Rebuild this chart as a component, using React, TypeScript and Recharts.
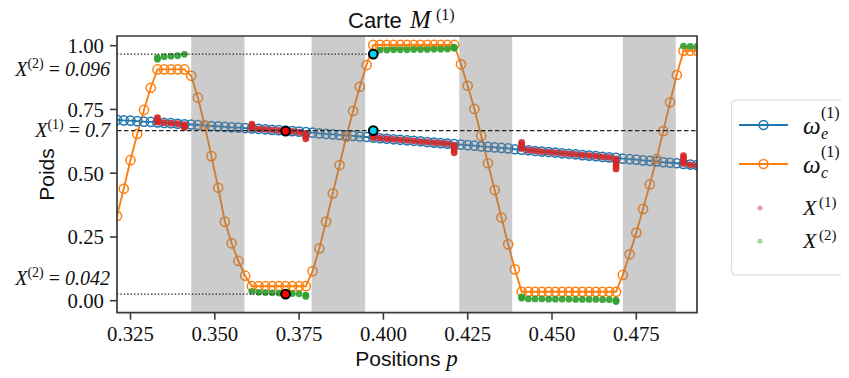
import React from "react";
import {
  ComposedChart,
  Line,
  Scatter,
  XAxis,
  YAxis,
  ReferenceArea,
  ReferenceLine,
} from "recharts";

// ---------- data ----------
const positions = [
  0.321, 0.323, 0.325, 0.327, 0.329, 0.331, 0.333, 0.335, 0.337, 0.339,
  0.341, 0.343, 0.345, 0.347, 0.349, 0.351, 0.353, 0.355, 0.357, 0.359,
  0.361, 0.363, 0.365, 0.367, 0.369, 0.371, 0.373, 0.375, 0.377, 0.379,
  0.381, 0.383, 0.385, 0.387, 0.389, 0.391, 0.393, 0.395, 0.397, 0.399,
  0.401, 0.403, 0.405, 0.407, 0.409, 0.411, 0.413, 0.415, 0.417, 0.419,
  0.421, 0.423, 0.425, 0.427, 0.429, 0.431, 0.433, 0.435, 0.437, 0.439,
  0.441, 0.443, 0.445, 0.447, 0.449, 0.451, 0.453, 0.455, 0.457, 0.459,
  0.461, 0.463, 0.465, 0.467, 0.469, 0.471, 0.473, 0.475, 0.477, 0.479,
  0.481, 0.483, 0.485, 0.487, 0.489, 0.491, 0.493,
];

const omegaE = [
  0.709, 0.707, 0.706, 0.704, 0.702, 0.701, 0.699, 0.697, 0.696, 0.694,
  0.692, 0.691, 0.689, 0.687, 0.685, 0.684, 0.682, 0.68, 0.679, 0.677,
  0.675, 0.674, 0.672, 0.67, 0.669, 0.667, 0.665, 0.663, 0.661, 0.659,
  0.656, 0.654, 0.652, 0.65, 0.648, 0.646, 0.644, 0.642, 0.639, 0.637,
  0.635, 0.633, 0.631, 0.629, 0.627, 0.625, 0.622, 0.62, 0.618, 0.616,
  0.614, 0.612, 0.61, 0.608, 0.605, 0.603, 0.601, 0.599, 0.597, 0.594,
  0.592, 0.59, 0.587, 0.585, 0.583, 0.581, 0.578, 0.576, 0.574, 0.571,
  0.569, 0.567, 0.564, 0.562, 0.56, 0.557, 0.555, 0.553, 0.55, 0.548,
  0.546, 0.543, 0.541, 0.539, 0.536, 0.534, 0.532,
];

const omegaC = [
  0.332, 0.439, 0.551, 0.654, 0.748, 0.835, 0.907, 0.907, 0.907, 0.907,
  0.907, 0.882, 0.796, 0.688, 0.567, 0.443, 0.31, 0.225, 0.156, 0.098,
  0.057, 0.057, 0.057, 0.057, 0.057, 0.057, 0.057, 0.057, 0.057, 0.116,
  0.205, 0.31, 0.421, 0.532, 0.643, 0.744, 0.839, 0.924, 1.003, 1.003,
  1.003, 1.003, 1.003, 1.003, 1.003, 1.003, 1.003, 1.003, 1.003, 1.003,
  1.003, 0.927, 0.843, 0.752, 0.647, 0.539, 0.434, 0.326, 0.221, 0.123,
  0.035, 0.035, 0.035, 0.035, 0.035, 0.035, 0.035, 0.035, 0.035, 0.035,
  0.035, 0.035, 0.035, 0.035, 0.035, 0.101, 0.182, 0.267, 0.36, 0.456,
  0.556, 0.665, 0.778, 0.885, 0.98, 0.98, 0.98,
];

// X^(1) samples (position, weight)
const x1Pos = [
  0.333, 0.333, 0.333, 0.333, 0.335, 0.337, 0.339, 0.341, 0.341, 0.341,
  0.361, 0.361, 0.361, 0.361, 0.363, 0.365, 0.367, 0.369, 0.371, 0.373, 0.375, 0.377, 0.377, 0.377, 0.377,
  0.397, 0.397, 0.399, 0.401, 0.403, 0.405, 0.407, 0.409, 0.411, 0.413, 0.415, 0.417, 0.419, 0.421, 0.421, 0.421, 0.421,
  0.441, 0.441, 0.441, 0.441, 0.443, 0.445, 0.447, 0.449, 0.451, 0.453, 0.455, 0.457, 0.459, 0.461, 0.463, 0.465, 0.467, 0.469, 0.469, 0.469, 0.469, 0.469,
  0.489, 0.489, 0.489, 0.489, 0.491, 0.493,
];
const x1Val = [
  0.718, 0.712, 0.706, 0.7, 0.698, 0.696, 0.694, 0.69, 0.684, 0.679,
  0.692, 0.686, 0.68, 0.675, 0.674, 0.672, 0.67, 0.668, 0.666, 0.664, 0.661, 0.656, 0.649, 0.642, 0.635,
  0.645, 0.639, 0.637, 0.635, 0.633, 0.631, 0.629, 0.627, 0.624, 0.622, 0.62, 0.618, 0.616, 0.61, 0.6, 0.59, 0.58,
  0.621, 0.613, 0.605, 0.597, 0.59, 0.588, 0.585, 0.583, 0.581, 0.578, 0.576, 0.574, 0.571, 0.569, 0.567, 0.564, 0.562, 0.556, 0.546, 0.536, 0.526, 0.516,
  0.569, 0.559, 0.548, 0.538, 0.533, 0.53,
];

// X^(2) samples (position, weight)
const x2Pos = [
  0.333, 0.333, 0.335, 0.337, 0.339, 0.341,
  0.361, 0.363, 0.365, 0.367, 0.369, 0.371, 0.373, 0.375, 0.377, 0.377,
  0.397, 0.399, 0.401, 0.403, 0.405, 0.407, 0.409, 0.411, 0.413, 0.415, 0.417, 0.419, 0.421, 0.421,
  0.441, 0.441, 0.443, 0.445, 0.447, 0.449, 0.451, 0.453, 0.455, 0.457, 0.459, 0.461, 0.463, 0.465, 0.467, 0.469, 0.469,
  0.489, 0.491, 0.493,
];
const x2Val = [
  0.953, 0.947, 0.957, 0.959, 0.961, 0.966,
  0.037, 0.033, 0.032, 0.031, 0.03, 0.029, 0.028, 0.027, 0.022, 0.017,
  0.975, 0.983, 0.983, 0.984, 0.984, 0.984, 0.985, 0.985, 0.985, 0.986, 0.986, 0.987, 0.99, 0.994,
  0.015, 0.01, 0.007, 0.007, 0.007, 0.006, 0.006, 0.006, 0.006, 0.005, 0.005, 0.005, 0.005, 0.004, 0.004, 0.002, -0.003,
  0.998, 0.997, 0.997,
];

// highlighted samples
const selRedPos = [0.371, 0.371];
const selRedVal = [0.665, 0.026];
const selCyanPos = [0.397, 0.397];
const selCyanVal = [0.967, 0.667];

// shaded intervals
const bandStart = [0.343, 0.3787, 0.4225, 0.471];
const bandEnd = [0.3588, 0.3946, 0.4382, 0.4867];

// reference levels
const level2Top = 0.967;
const level2TopEnd = 0.397;
const level1 = 0.667;
const level2Bottom = 0.026;
const level2BottomEnd = 0.371;

const xTicks = [0.325, 0.35, 0.375, 0.4, 0.425, 0.45, 0.475];
const yTicks = [0, 0.25, 0.5, 0.75, 1.0];
const annotLabels = [
  { at: 0.909, sup: "(2)", value: "0.096" },
  { at: 0.669, sup: "(1)", value: "0.7" },
  { at: 0.089, sup: "(2)", value: "0.042" },
];

const X_DOMAIN: [number, number] = [0.321, 0.493];
const Y_DOMAIN: [number, number] = [-0.047, 1.038];

// ---------- helpers ----------
const BLUE = "#1f77b4";
const ORANGE = "#ff7f0e";
const RED = "#d62728";
const GREEN = "#2ca02c";
const AXIS = "#3a3a3a";
const SERIF = "Liberation Serif, DejaVu Serif, serif";
const SANS = "Liberation Sans, DejaVu Sans, sans-serif";

const zip = (ps: number[], vs: number[]) => ps.map((p, i) => ({ p, v: vs[i] }));
const weData = zip(positions, omegaE);
const wcData = zip(positions, omegaC);
const x1Data = zip(x1Pos, x1Val);
const x2Data = zip(x2Pos, x2Val);
const selRed = zip(selRedPos, selRedVal);
const selCyan = zip(selCyanPos, selCyanVal);

const allYTicks = [...yTicks, ...annotLabels.map((a) => a.at)].sort((a, b) => a - b);

const TICK_SIZE = 7;
const TICK_MARGIN = 6;

const YTick = (props: any) => {
  const { x, y, payload } = props;
  const ann = annotLabels.find((a) => a.at === payload.value);
  if (ann) {
    return (
      <g>
        <text x={x + TICK_MARGIN} y={y} dy="0.35em" textAnchor="end" style={{ fontFamily: SERIF }} fontSize={20} fill="#111">
          <tspan fontStyle="italic">X</tspan>
          <tspan fontSize={14} dy={-8}>{ann.sup}</tspan>
          <tspan dy={8}> = </tspan>
          <tspan fontStyle="italic">{ann.value}</tspan>
        </text>
      </g>
    );
  }
  return (
    <g>
      <line x1={x + TICK_MARGIN} x2={x + TICK_MARGIN + TICK_SIZE} y1={y} y2={y} stroke={AXIS} strokeWidth={1.6} />
      <text x={x} y={y} dy="0.36em" textAnchor="end" style={{ fontFamily: SERIF }} fontSize={20.8} fill="#111">
        {payload.value.toFixed(2)}
      </text>
    </g>
  );
};

const XTick = (props: any) => {
  const { x, y, payload } = props;
  return (
    <text x={x} y={y} dy="0.74em" textAnchor="middle" style={{ fontFamily: SERIF }} fontSize={20.8} fill="#111">
      {payload.value.toFixed(3)}
    </text>
  );
};

const dotShape = (color: string, r: number, op: number) => (p: any) =>
  <circle cx={p.cx} cy={p.cy} r={r} fill={color} fillOpacity={op} />;

const selShape = (color: string) => (p: any) =>
  <circle cx={p.cx} cy={p.cy} r={4.4} fill={color} stroke="#000" strokeWidth={2} />;

const W = 841;
const H = 370;
const OV = 8; // overlay shift so that it starts at the page top

export default function App() {
  return (
    <div style={{ position: "relative", width: W, height: H, background: "#fff" }}>
      <ComposedChart
        width={W}
        height={H}
        margin={{ top: 28, right: 152, bottom: 25.3, left: 0 }}
      >
        <XAxis
          type="number"
          dataKey="p"
          domain={X_DOMAIN}
          allowDataOverflow
          ticks={xTicks}
          interval={0}
          height={40}
          axisLine={false}
          tickSize={TICK_SIZE}
          tickMargin={TICK_MARGIN}
          tickLine={{ stroke: AXIS, strokeWidth: 1.6 }}
          tick={<XTick />}
        />
        <YAxis
          type="number"
          dataKey="v"
          domain={Y_DOMAIN}
          allowDataOverflow
          ticks={allYTicks}
          interval={0}
          width={109}
          axisLine={false}
          tickLine={false}
          tickSize={TICK_SIZE}
          tickMargin={TICK_MARGIN}
          tick={<YTick />}
        />
        <Line
          data={weData}
          dataKey="v"
          stroke={BLUE}
          strokeWidth={1.8}
          dot={{ r: 4.6, fill: "none", stroke: BLUE, strokeWidth: 1.5 }}
          activeDot={false}
          isAnimationActive={false}
        />
        <Line
          data={wcData}
          dataKey="v"
          stroke={ORANGE}
          strokeWidth={1.9}
          dot={{ r: 4.6, fill: "none", stroke: ORANGE, strokeWidth: 1.5 }}
          activeDot={false}
          isAnimationActive={false}
        />
        <Scatter data={x1Data} dataKey="v" shape={dotShape(RED, 3.4, 0.9)} isAnimationActive={false} />
        <Scatter data={x2Data} dataKey="v" shape={dotShape(GREEN, 3.4, 0.9)} isAnimationActive={false} />
        {bandStart.map((b, i) => (
          <ReferenceArea
            key={"band" + i}
            x1={b}
            x2={bandEnd[i]}
            fill="#808080"
            fillOpacity={0.4}
            stroke="none"
            ifOverflow="hidden"
            zIndex={650}
          />
        ))}
        <ReferenceLine
          segment={[{ x: X_DOMAIN[0], y: level2Top }, { x: level2TopEnd, y: level2Top }]}
          stroke="#222"
          strokeWidth={1.2}
          strokeDasharray="1.4 2"
          zIndex={660}
        />
        <ReferenceLine y={level1} stroke="#222" strokeWidth={1.2} strokeDasharray="4.5 2.5" zIndex={660} />
        <ReferenceLine
          segment={[{ x: X_DOMAIN[0], y: level2Bottom }, { x: level2BottomEnd, y: level2Bottom }]}
          stroke="#222"
          strokeWidth={1.2}
          strokeDasharray="1.4 2"
          zIndex={660}
        />
        <Scatter data={selRed} dataKey="v" shape={selShape("#ff0000")} isAnimationActive={false} zIndex={700} />
        <Scatter data={selCyan} dataKey="v" shape={selShape("#00d4f5")} isAnimationActive={false} zIndex={700} />
        <ReferenceArea
          x1={X_DOMAIN[0]}
          x2={X_DOMAIN[1]}
          y1={Y_DOMAIN[0]}
          y2={Y_DOMAIN[1]}
          fill="none"
          stroke={AXIS}
          strokeWidth={1.7}
          zIndex={800}
        />
      </ComposedChart>

      <svg
        width={W}
        height={H + OV}
        style={{ position: "absolute", left: 0, top: -OV, pointerEvents: "none" }}
      >
        <g transform={`translate(0 ${OV})`}>
          {/* title */}
          <text x={340} y={20} style={{ fontFamily: SANS }} fontSize={22} fill="#111">Carte</text>
          <text x={402} y={20} style={{ fontFamily: SERIF }} fontStyle="italic" fontSize={25} fill="#111">M</text>
          <text x={428} y={12} style={{ fontFamily: SERIF }} fontSize={16} fill="#111">(1)</text>
          {/* x label */}
          <text x={398.5} y={358} textAnchor="middle" fill="#111">
            <tspan style={{ fontFamily: SANS }} fontSize={21}>Positions </tspan>
            <tspan style={{ fontFamily: SERIF }} fontStyle="italic" fontSize={23}>p</tspan>
          </text>
          {/* y label */}
          <text
            x={45.5}
            y={166.5}
            transform="rotate(-90 45.5 166.5)"
            textAnchor="middle"
            style={{ fontFamily: SANS }}
            fontSize={21}
            fill="#111"
          >
            Poids
          </text>

          {/* legend */}
          <rect x={723.7} y={92} width={130} height={175} rx={4} fill="#fff" stroke="#d3d3d3" strokeWidth={1} />
          <line x1={731} x2={780} y1={117} y2={117} stroke={BLUE} strokeWidth={2} />
          <circle cx={755.5} cy={117} r={4.4} fill="none" stroke={BLUE} strokeWidth={1.5} />
          <text x={795} y={126} style={{ fontFamily: SERIF }} fontStyle="italic" fontSize={25} fill="#111">ω</text>
          <text x={813} y={131} style={{ fontFamily: SERIF }} fontStyle="italic" fontSize={16} fill="#111">e</text>
          <text x={813} y={110} style={{ fontFamily: SERIF }} fontSize={16} fill="#111">(1)</text>

          <line x1={731} x2={780} y1={156} y2={156} stroke={ORANGE} strokeWidth={2} />
          <circle cx={755.5} cy={156} r={4.4} fill="none" stroke={ORANGE} strokeWidth={1.5} />
          <text x={795} y={165} style={{ fontFamily: SERIF }} fontStyle="italic" fontSize={25} fill="#111">ω</text>
          <text x={813} y={170} style={{ fontFamily: SERIF }} fontStyle="italic" fontSize={16} fill="#111">c</text>
          <text x={813} y={149} style={{ fontFamily: SERIF }} fontSize={16} fill="#111">(1)</text>

          <circle cx={752} cy={200} r={2.6} fill={RED} fillOpacity={0.45} />
          <text x={795} y={207} style={{ fontFamily: SERIF }} fontStyle="italic" fontSize={22} fill="#111">X</text>
          <text x={811} y={199} style={{ fontFamily: SERIF }} fontSize={15} fill="#111">(1)</text>

          <circle cx={752} cy={233} r={2.6} fill={GREEN} fillOpacity={0.45} />
          <text x={795} y={240} style={{ fontFamily: SERIF }} fontStyle="italic" fontSize={22} fill="#111">X</text>
          <text x={811} y={232} style={{ fontFamily: SERIF }} fontSize={15} fill="#111">(2)</text>
        </g>
      </svg>
    </div>
  );
}
